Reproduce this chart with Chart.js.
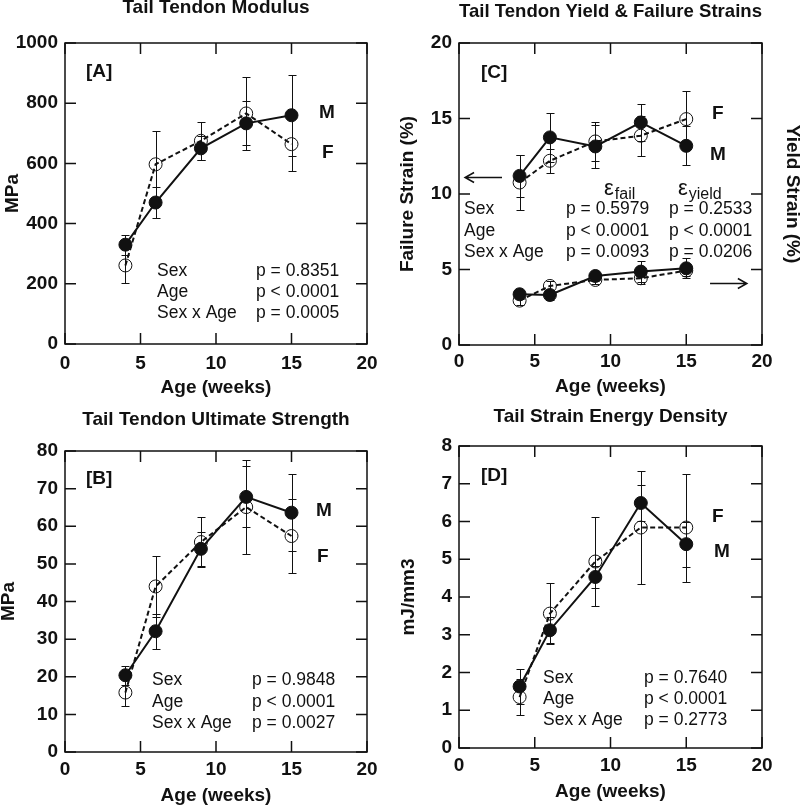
<!DOCTYPE html>
<html>
<head>
<meta charset="utf-8">
<title>Tail tendon mechanics by age and sex</title>
<script src="https://cdn.jsdelivr.net/npm/chart.js@4.4.0/dist/chart.umd.min.js"></script>
<style>
  body { margin: 0; background: #fff; }
  #fig { position: relative; width: 800px; height: 807px; }
  #fig canvas { position: absolute; }
</style>
</head>
<body>
<div id="fig">
  <canvas id="panelA" width="400" height="400" style="left:0;top:0"></canvas>
  <canvas id="panelC" width="400" height="400" style="left:400px;top:0"></canvas>
  <canvas id="panelB" width="400" height="407" style="left:0;top:400px"></canvas>
  <canvas id="panelD" width="400" height="407" style="left:400px;top:400px"></canvas>
</div>
<script>
// ----- Data -----
const weeks = [4, 6, 9, 12, 15];

const modulusM = [330, 470, 650, 733, 760];
const modulusMErr = [33, 52, 40, 73, 134];
const modulusF = [261, 597, 675, 766, 664];
const modulusFErr = [58, 110, 64, 122, 88];

const strengthM = [20.4, 32.1, 54.0, 67.8, 63.6];
const strengthMErr = [2.5, 4.7, 4.5, 8.1, 10.3];
const strengthF = [15.8, 44.0, 55.8, 65.1, 57.4];
const strengthFErr = [3.7, 8.2, 6.6, 12.6, 9.8];

const failM = [11.2, 13.75, 13.15, 14.74, 13.19];
const failMErr = [1.4, 1.6, 1.4, 1.2, 1.3];
const failF = [10.76, 12.2, 13.48, 13.86, 14.96];
const failFErr = [1.8, 0.8, 1.3, 1.33, 1.85];
const yieldM = [3.36, 3.31, 4.57, 4.86, 5.08];
const yieldMErr = [0.3, 0.3, 0.3, 0.7, 0.66];
const yieldF = [2.94, 3.91, 4.31, 4.42, 4.93];
const yieldFErr = [0.3, 0.35, 0.3, 0.35, 0.35];

const energyM = [1.63, 3.12, 4.53, 6.49, 5.40];
const energyMErr = [0.47, 0.35, 0.3, 0.47, 0.6];
const energyF = [1.35, 3.56, 4.94, 5.84, 5.84];
const energyFErr = [0.47, 0.8, 1.18, 1.5, 1.43];

const xTicks = [0, 5, 10, 15, 20];
const statNames = ['Sex', 'Age', 'Sex x Age'];
const statsA = ['p = 0.8351', 'p < 0.0001', 'p = 0.0005'];
const statsB = ['p = 0.9848', 'p < 0.0001', 'p = 0.0027'];
const statsCfail = ['p = 0.5979', 'p < 0.0001', 'p = 0.0093'];
const statsCyield = ['p = 0.2533', 'p < 0.0001', 'p = 0.0206'];
const statsD = ['p = 0.7640', 'p < 0.0001', 'p = 0.2773'];

// ----- Look -----
const FONT = "'Liberation Sans', Arial, Helvetica, sans-serif";
const INK = '#111';
const bold = (size, lh) => ({ family: FONT, size: size, weight: 'bold', lineHeight: lh });

// ----- Text placed inside each panel (offsets from chart area top-left) -----
const notesById = {
  panelA: {
    label: ['[A]', 21, 34],
    tags: [['M', 254, 75], ['F', 257, 115]],
    stats: { dx: 92, dy: 233, gap: 21, cols: [[191, statsA]] }
  },
  panelB: {
    label: ['[B]', 21, 33],
    tags: [['M', 251, 65], ['F', 252, 111]],
    stats: { dx: 87, dy: 234, gap: 21.5, cols: [[187, statsB]] }
  },
  panelC: {
    label: ['[C]', 22, 35],
    tags: [['F', 253, 76], ['M', 251, 117]],
    stats: { dx: 5, dy: 171, gap: 21.5, cols: [[107, statsCfail], [210, statsCyield]] },
    heads: [['fail', 145, 152], ['yield', 219, 152]],
    // arrows in data units: [fromX, toX, y]
    arrows: [[2.84, 0.4, 11.13], [16.57, 19.0, 4.1]]
  },
  panelD: {
    label: ['[D]', 22, 35],
    tags: [['F', 253, 76], ['M', 255, 111]],
    stats: { dx: 84, dy: 237, gap: 21, cols: [[185, statsD]] }
  }
};

// ----- Plugins -----
const errorBars = {
  id: 'errorBars',
  beforeDatasetsDraw(chart) {
    const ctx = chart.ctx;
    const xs = chart.scales.x;
    chart.data.datasets.forEach(ds => {
      if (!ds.errors) return;
      const ys = chart.scales[ds.yAxisID || 'y'];
      ctx.save();
      ctx.strokeStyle = INK;
      ctx.lineWidth = 1;
      ctx.beginPath();
      ds.data.forEach((p, j) => {
        const e = ds.errors[j];
        const px = Math.round(xs.getPixelForValue(p.x)) + 0.5;
        const top = Math.round(ys.getPixelForValue(p.y + e)) + 0.5;
        const bot = Math.round(ys.getPixelForValue(p.y - e)) + 0.5;
        ctx.moveTo(px, top); ctx.lineTo(px, bot);
        ctx.moveTo(px - 4, top); ctx.lineTo(px + 4, top);
        ctx.moveTo(px - 4, bot); ctx.lineTo(px + 4, bot);
      });
      ctx.stroke();
      ctx.restore();
    });
  }
};

const frame = {
  id: 'frame',
  beforeDatasetsDraw(chart) {
    const { ctx, chartArea: a, scales } = chart;
    ctx.save();
    ctx.strokeStyle = INK;
    ctx.lineWidth = 1.5;
    ctx.strokeRect(a.left, a.top, a.right - a.left, a.bottom - a.top);
    ctx.beginPath();
    scales.x.ticks.forEach(t => {
      const px = scales.x.getPixelForValue(t.value);
      ctx.moveTo(px, a.bottom); ctx.lineTo(px, a.bottom - 11);
      ctx.moveTo(px, a.top); ctx.lineTo(px, a.top + 11);
    });
    scales.y.ticks.forEach(t => {
      const py = scales.y.getPixelForValue(t.value);
      ctx.moveTo(a.left, py); ctx.lineTo(a.left + 11, py);
      ctx.moveTo(a.right, py); ctx.lineTo(a.right - 11, py);
    });
    ctx.stroke();
    ctx.restore();
  }
};

const notes = {
  id: 'notes',
  afterDraw(chart) {
    const n = notesById[chart.canvas.id];
    if (!n) return;
    const { ctx, chartArea: a } = chart;
    ctx.save();
    ctx.fillStyle = INK;
    ctx.textBaseline = 'alphabetic';
    ctx.textAlign = 'left';

    ctx.font = 'bold 19px ' + FONT;
    ctx.fillText(n.label[0], a.left + n.label[1], a.top + n.label[2]);
    n.tags.forEach(t => ctx.fillText(t[0], a.left + t[1], a.top + t[2]));

    ctx.font = '17.5px ' + FONT;
    const s = n.stats;
    statNames.forEach((name, i) => {
      const y = a.top + s.dy + i * s.gap;
      ctx.fillText(name, a.left + s.dx, y);
      s.cols.forEach(c => ctx.fillText(c[1][i], a.left + c[0], y));
    });

    (n.heads || []).forEach(h => {
      ctx.font = '22px ' + FONT;
      ctx.fillText('\u03b5', a.left + h[1], a.top + h[2]);
      const w = ctx.measureText('\u03b5').width;
      ctx.font = '16px ' + FONT;
      ctx.fillText(h[0], a.left + h[1] + w + 1, a.top + h[2] + 4);
    });

    const xs = chart.scales.x, ys = chart.scales.y;
    ctx.strokeStyle = INK;
    ctx.lineWidth = 1.5;
    (n.arrows || []).forEach(ar => {
      const x0 = xs.getPixelForValue(ar[0]);
      const x1 = xs.getPixelForValue(ar[1]);
      const y = Math.round(ys.getPixelForValue(ar[2])) + 0.5;
      const dir = x1 > x0 ? -1 : 1;
      ctx.beginPath();
      ctx.moveTo(x0, y); ctx.lineTo(x1, y);
      ctx.moveTo(x1 + dir * 9, y - 5); ctx.lineTo(x1, y); ctx.lineTo(x1 + dir * 9, y + 5);
      ctx.stroke();
    });
    ctx.restore();
  }
};

// ----- Datasets -----
function maleSet(values, errors, axis) {
  return {
    label: 'M',
    data: weeks.map((w, i) => ({ x: w, y: values[i] })),
    errors: errors,
    yAxisID: axis || 'y',
    borderColor: INK,
    borderWidth: 2,
    tension: 0,
    pointRadius: 6.5,
    pointBackgroundColor: INK,
    pointBorderColor: INK,
    pointBorderWidth: 1
  };
}

function femaleSet(values, errors, axis) {
  return {
    label: 'F',
    data: weeks.map((w, i) => ({ x: w, y: values[i] })),
    errors: errors,
    yAxisID: axis || 'y',
    borderColor: INK,
    borderWidth: 2,
    borderDash: [5, 3],
    tension: 0,
    pointRadius: 6.5,
    pointBackgroundColor: 'rgba(0,0,0,0)',
    pointBorderColor: INK,
    pointBorderWidth: 1
  };
}

// ----- Panel builder -----
function makePanel(id, s, datasets) {
  const scales = {
    x: {
      type: 'linear', min: 0, max: 20,
      afterBuildTicks: sc => { sc.ticks = xTicks.map(v => ({ value: v })); },
      ticks: { font: bold(19, 1), color: INK, padding: s.xPad, maxRotation: 0 },
      grid: { display: false, drawTicks: false },
      border: { display: false },
      title: { display: true, text: 'Age (weeks)', font: bold(19, 0.8), color: INK,
               padding: { top: 0, bottom: s.xTitlePad } },
      afterFit: sc => { sc.height = s.xHeight; }
    },
    y: {
      type: 'linear', min: 0, max: s.yMax,
      ticks: { stepSize: s.yStep, font: bold(19, 1), color: INK, padding: 7,
               callback: v => String(v) },
      grid: { display: false, drawTicks: false },
      border: { display: false },
      title: { display: true, text: s.yTitle, font: bold(19, 0.8), color: INK,
               padding: { top: s.yTitlePad, bottom: 0 } },
      afterFit: sc => { sc.width = s.yWidth; }
    }
  };
  if (s.y1Title) {
    scales.y1 = {
      type: 'linear', position: 'right', min: 0, max: s.yMax,
      ticks: { display: false },
      grid: { display: false, drawTicks: false },
      border: { display: false },
      title: { display: true, text: s.y1Title, font: bold(19, 0.8), color: INK,
               padding: { top: 0, bottom: 0 } },
      afterFit: sc => { sc.width = s.y1Width; }
    };
  }
  return new Chart(document.getElementById(id), {
    type: 'line',
    data: { datasets: datasets },
    options: {
      responsive: false,
      animation: false,
      events: [],
      layout: { padding: { left: 0, top: 0, right: s.padRight, bottom: 0 } },
      plugins: {
        legend: { display: false },
        tooltip: { enabled: false },
        title: {
          display: true, text: s.title, fullSize: false, color: INK,
          font: bold(19, 0.8),
          padding: { top: s.titleTop, bottom: s.titleBottom }
        }
      },
      scales: scales
    },
    plugins: [frame, errorBars, notes]
  });
}

makePanel('panelA', {
  title: 'Tail Tendon Modulus', titleTop: 0, titleBottom: 27.8,
  yTitle: 'MPa', yMax: 1000, yStep: 200, yWidth: 65, yTitlePad: 5,
  xHeight: 56, xPad: 10, xTitlePad: 5, padRight: 33
}, [maleSet(modulusM, modulusMErr), femaleSet(modulusF, modulusFErr)]);

makePanel('panelB', {
  title: 'Tail Tendon Ultimate Strength', titleTop: 11.9, titleBottom: 23.9,
  yTitle: 'MPa', yMax: 80, yStep: 10, yWidth: 65, yTitlePad: 1,
  xHeight: 55, xPad: 8, xTitlePad: 4, padRight: 33
}, [maleSet(strengthM, strengthMErr), femaleSet(strengthF, strengthFErr)]);

makePanel('panelC', {
  title: 'Tail Tendon Yield & Failure Strains', titleTop: 3.9, titleBottom: 23.9,
  yTitle: 'Failure Strain (%)', yMax: 20, yStep: 5, yWidth: 59, yTitlePad: 0,
  y1Title: 'Yield Strain (%)', y1Width: 38,
  xHeight: 55, xPad: 7, xTitlePad: 6, padRight: 0
}, [
  maleSet(failM, failMErr), femaleSet(failF, failFErr),
  maleSet(yieldM, yieldMErr, 'y1'), femaleSet(yieldF, yieldFErr, 'y1')
]);

makePanel('panelD', {
  title: 'Tail Strain Energy Density', titleTop: 8.9, titleBottom: 21.9,
  yTitle: 'mJ/mm3', yMax: 8, yStep: 1, yWidth: 59, yTitlePad: 1,
  xHeight: 59, xPad: 8, xTitlePad: 8, padRight: 38
}, [maleSet(energyM, energyMErr), femaleSet(energyF, energyFErr)]);
</script>
</body>
</html>
